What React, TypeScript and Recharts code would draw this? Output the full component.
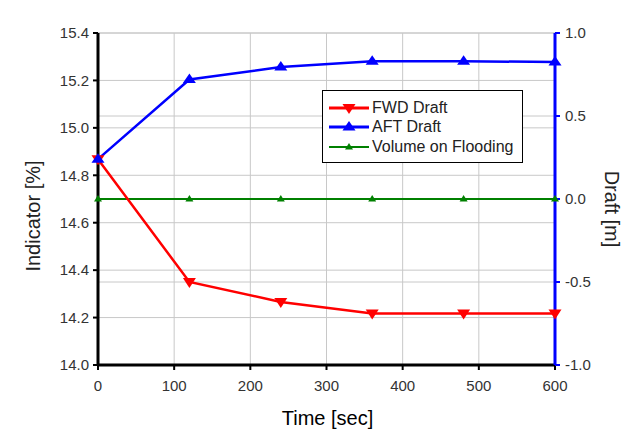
import React from 'react';
import { ComposedChart, Line, XAxis, YAxis, CartesianGrid, Legend } from 'recharts';

const times = [0, 120, 240, 360, 480, 600];
const fwdDraft = [0.24, -0.5, -0.62, -0.69, -0.69, -0.69];
const aftDraft = [0.24, 0.72, 0.795, 0.83, 0.83, 0.825];
const volumeOnFlooding = [14.7, 14.7, 14.7, 14.7, 14.7, 14.7];

const xTicks = [0, 100, 200, 300, 400, 500, 600];
const xMinorTicks = [50, 150, 250, 350, 450, 550];
const xTopTicks = [0, 50, 100, 150, 200, 250, 300, 350, 400, 450, 500, 550, 600];
const leftTicks = [14.0, 14.2, 14.4, 14.6, 14.8, 15.0, 15.2, 15.4];
const leftMinorTicks = [14.1, 14.3, 14.5, 14.7, 14.9, 15.1, 15.3];
const rightTicks = [-1.0, -0.5, 0.0, 0.5, 1.0];
const rightMinorTicks = [-0.75, -0.25, 0.25, 0.75];

const seriesNames = ['FWD Draft', 'AFT Draft', 'Volume on Flooding'];
const RED = '#ff0000';
const BLUE = '#0000ff';
const GREEN = '#008000';

const data = times.map((t, i) => ({
  time: t,
  fwd: fwdDraft[i],
  aft: aftDraft[i],
  vol: volumeOnFlooding[i],
}));

const FONT = '"Liberation Sans", Arial, sans-serif';
const tickStyle = { fill: '#333', fontSize: 15, fontFamily: FONT };

function triPath(cx: number, cy: number, dir: 'up' | 'down', half: number, apex: number, base: number) {
  if (dir === 'up') {
    return `M${cx},${cy - apex} L${cx + half},${cy + base} L${cx - half},${cy + base} Z`;
  }
  return `M${cx},${cy + apex} L${cx + half},${cy - base} L${cx - half},${cy - base} Z`;
}

const makeDot = (dir: 'up' | 'down', half: number, apex: number, base: number, color: string) => (props: any) => {
  const { cx, cy, index } = props;
  if (cx == null || cy == null) return <g key={index} />;
  return <path key={index} d={triPath(cx, cy, dir, half, apex, base)} fill={color} stroke="none" />;
};

const fwdDot = makeDot('down', 6.5, 6, 4, RED);
const aftDot = makeDot('up', 6.5, 6, 3.5, BLUE);
const volDot = makeDot('up', 4, 4, 2.5, GREEN);

const legendItems = [
  { name: seriesNames[0], color: RED, dir: 'down' as const, half: 6.5, apex: 6, base: 4, w: 3 },
  { name: seriesNames[1], color: BLUE, dir: 'up' as const, half: 6.5, apex: 6, base: 3.5, w: 3 },
  { name: seriesNames[2], color: GREEN, dir: 'up' as const, half: 4, apex: 4, base: 2.5, w: 2 },
];

const renderLegend = () => (
  <div
    style={{
      width: 201,
      height: 73,
      boxSizing: 'border-box',
      border: '1px solid #000',
      background: '#fff',
      paddingTop: 7,
      fontFamily: FONT,
      fontSize: 16,
      color: '#222',
    }}
  >
    {legendItems.map((it) => (
      <div key={it.name} style={{ height: 19.5, display: 'flex', alignItems: 'center' }}>
        <svg width={48} height={16} style={{ display: 'block' }}>
          <line x1={6} y1={8} x2={46} y2={8} stroke={it.color} strokeWidth={it.w} />
          <path d={triPath(26, 8, it.dir, it.half, it.apex, it.base)} fill={it.color} />
        </svg>
        <span style={{ marginLeft: 1, lineHeight: '16px' }}>{it.name}</span>
      </div>
    ))}
  </div>
);

const leftLabel = (props: any) => {
  const vb = props.viewBox || { x: 0, y: 33, width: 98, height: 332 };
  const x = vb.x + 33;
  const y = vb.y + vb.height / 2 + 17;
  return (
    <text x={x} y={y} transform={`rotate(-90, ${x}, ${y})`} textAnchor="middle" dominantBaseline="central"
      style={{ fontFamily: FONT, fontSize: 20, fill: '#222' }}>
      Indicator [%]
    </text>
  );
};

const rightLabel = (props: any) => {
  const vb = props.viewBox || { x: 555, y: 33, width: 80, height: 332 };
  const x = vb.x + 57;
  const y = vb.y + vb.height / 2 + 10;
  return (
    <text x={x} y={y} transform={`rotate(90, ${x}, ${y})`} textAnchor="middle" dominantBaseline="central"
      style={{ fontFamily: FONT, fontSize: 20, fill: '#222' }}>
      Draft [m]
    </text>
  );
};

const bottomLabel = (props: any) => {
  const vb = props.viewBox || { x: 98, y: 365, width: 457, height: 74 };
  const x = vb.x + vb.width / 2 + 1;
  const y = vb.y + 60;
  return (
    <text x={x} y={y} textAnchor="middle" style={{ fontFamily: FONT, fontSize: 20, fill: '#000' }}>
      Time [sec]
    </text>
  );
};

export default function App() {
  return (
    <div style={{ position: 'absolute', left: 0, top: 0, width: 635, height: 439, background: '#fff' }}>
      <ComposedChart
        width={635}
        height={439}
        data={data}
        margin={{ top: 33, right: 0, bottom: 0, left: 0 }}
        style={{ fontFamily: FONT }}
      >
        <CartesianGrid xAxisId="xMain" yAxisId="yLeft" stroke="#c8c8c8" strokeWidth={1} verticalPoints={undefined} />
        <CartesianGrid xAxisId="xMain" yAxisId="yRight" stroke="#c8c8c8" strokeWidth={1} vertical={false} />

        <XAxis xAxisId="xMinor" type="number" dataKey="time" domain={[0, 600]} ticks={xMinorTicks}
          height={0} tick={false} tickSize={4} axisLine={false}
          tickLine={{ stroke: '#000', strokeWidth: 2 }} />
        <XAxis xAxisId="xMain" type="number" dataKey="time" domain={[0, 600]} ticks={xTicks}
          height={74} tick={tickStyle} tickSize={5} tickMargin={10}
          axisLine={{ stroke: '#000', strokeWidth: 3 }} tickLine={{ stroke: '#000', strokeWidth: 2 }}
          label={{ content: bottomLabel }} />
        <XAxis xAxisId="xTop" orientation="top" type="number" dataKey="time" domain={[0, 600]} ticks={xTopTicks}
          height={0} mirror tick={false} tickSize={4}
          axisLine={{ stroke: '#000', strokeWidth: 3 }} tickLine={{ stroke: '#000', strokeWidth: 2 }} />

        <YAxis yAxisId="yLeftMinor" orientation="left" type="number" domain={[14, 15.4]} ticks={leftMinorTicks}
          width={0} tick={false} tickSize={3} axisLine={false}
          tickLine={{ stroke: '#000', strokeWidth: 2 }} />
        <YAxis yAxisId="yLeft" orientation="left" type="number" domain={[14, 15.4]} ticks={leftTicks}
          width={98} tick={tickStyle} tickSize={5} tickMargin={4} allowDataOverflow
          tickFormatter={(v: number) => v.toFixed(1)}
          axisLine={{ stroke: '#000', strokeWidth: 3 }} tickLine={{ stroke: '#000', strokeWidth: 2 }}
          label={{ content: leftLabel }} />

        <YAxis yAxisId="yRightMinor" orientation="right" type="number" domain={[-1, 1]} ticks={rightMinorTicks}
          width={0} tick={false} tickSize={3} axisLine={false}
          tickLine={{ stroke: BLUE, strokeWidth: 2 }} />
        <YAxis yAxisId="yRight" orientation="right" type="number" domain={[-1, 1]} ticks={rightTicks}
          width={80} tick={tickStyle} tickSize={5} tickMargin={5} allowDataOverflow
          tickFormatter={(v: number) => v.toFixed(1)}
          axisLine={{ stroke: BLUE, strokeWidth: 3 }} tickLine={{ stroke: BLUE, strokeWidth: 2 }}
          label={{ content: rightLabel }} />

        <Line xAxisId="xMain" yAxisId="yLeft" type="linear" dataKey="vol" name={seriesNames[2]}
          stroke={GREEN} strokeWidth={2} dot={volDot} activeDot={false} isAnimationActive={false} />
        <Line xAxisId="xMain" yAxisId="yRight" type="linear" dataKey="fwd" name={seriesNames[0]}
          stroke={RED} strokeWidth={2.5} dot={fwdDot} activeDot={false} isAnimationActive={false} />
        <Line xAxisId="xMain" yAxisId="yRight" type="linear" dataKey="aft" name={seriesNames[1]}
          stroke={BLUE} strokeWidth={2.5} dot={aftDot} activeDot={false} isAnimationActive={false} />

        <Legend layout="vertical" align="center" verticalAlign="middle"
          wrapperStyle={{ left: 322, top: 90, width: 201, height: 73 }} content={renderLegend} />
      </ComposedChart>
    </div>
  );
}
